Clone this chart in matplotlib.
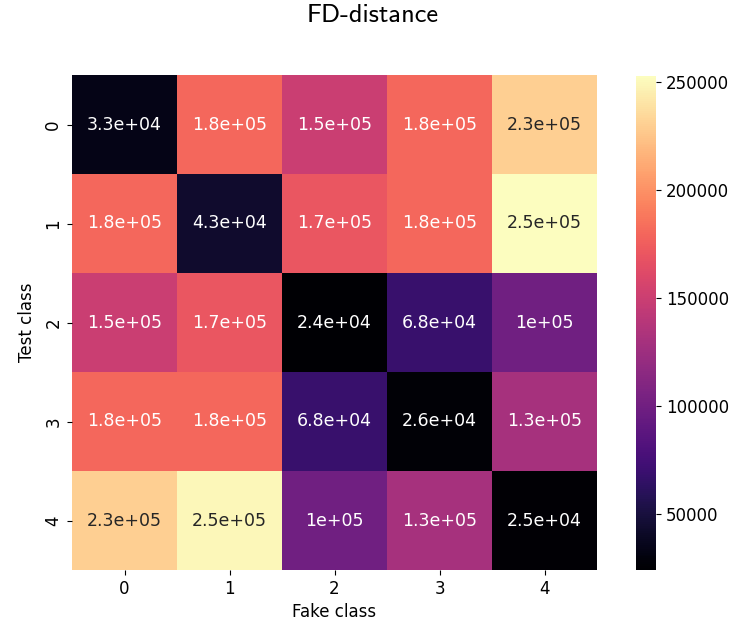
import numpy as np
import matplotlib
matplotlib.use("Agg")
import matplotlib.pyplot as plt
import seaborn as sns

classes = ["0", "1", "2", "3", "4"]
row0 = [3.3e4, 1.8e5, 1.5e5, 1.8e5, 2.3e5]
row1 = [1.8e5, 4.3e4, 1.7e5, 1.8e5, 2.53e5]
row2 = [1.5e5, 1.7e5, 2.4e4, 6.8e4, 1.0e5]
row3 = [1.8e5, 1.8e5, 6.8e4, 2.6e4, 1.3e5]
row4 = [2.3e5, 2.5e5, 1.0e5, 1.3e5, 2.5e4]

data = np.array([row0, row1, row2, row3, row4])

W, H = 745, 630
fig = plt.figure(figsize=(W / 100, H / 100), dpi=100)
ax = fig.add_axes([72 / W, 1 - 570 / H, (597 - 72) / W, (570 - 75) / H])
cax = fig.add_axes([636 / W, 1 - 570 / H, 20 / W, (570 - 76) / H])

sns.heatmap(data, annot=True, cmap="magma", ax=ax, cbar_ax=cax,
            xticklabels=classes, yticklabels=classes,
            annot_kws={"fontsize": 12.5})
ax.set_xlabel("Fake class", fontsize=12)
ax.set_ylabel("Test class", fontsize=12, labelpad=6)
ax.tick_params(labelsize=12)
cax.tick_params(labelsize=12)
fig.suptitle("FD-distance", fontsize=19, family="cmss10", y=1 - 4 / H, va="top")

fig.savefig("out.png", dpi=100)
